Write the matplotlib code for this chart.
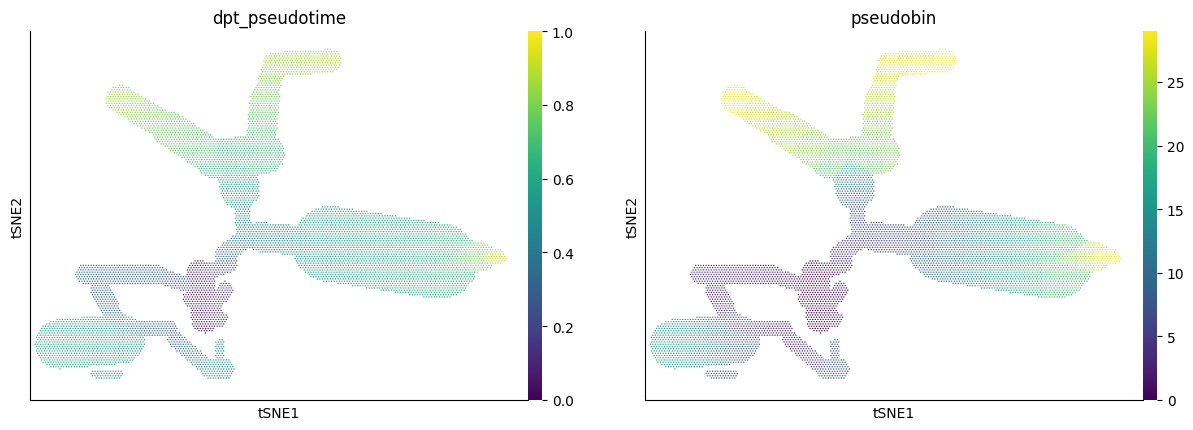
import numpy as np
import matplotlib
matplotlib.use("Agg")
import matplotlib.pyplot as plt

# Branch skeleton of the embedding: (x0, y0, x1, y1, half_width, pseudotime0, pseudotime1)
branches = [
    (260,238,330,245,15,.45,.55),(330,245,440,262,38,.58,.65),(440,262,480,258,15,.67,.80),(480,258,498,258,8,.85,.90),
    (225,255,245,240,10,.35,.40),(245,240,265,238,10,.40,.45),
    (245,240,240,190,8,.45,.55),(240,190,235,160,20,.58,.65),
    (215,160,265,155,20,.65,.68),
    (215,160,170,130,18,.70,.77),(170,130,120,100,14,.77,.85),(120,100,125,93,6,.85,.85),
    (260,150,265,100,15,.68,.78),(265,100,275,65,12,.78,.84),(275,65,330,62,12,.84,.88),
    (230,265,200,275,8,.25,.12),(200,275,205,320,14,.08,.04),(205,320,225,290,8,.08,.18),(190,300,220,320,8,.10,.10),
    (85,275,155,275,10,.35,.30),(155,275,185,285,8,.30,.20),
    (100,290,120,330,10,.30,.40),(120,330,170,330,8,.40,.30),
    (60,345,120,340,25,.62,.57),(95,375,120,375,4,.55,.55),
    (175,340,210,370,8,.30,.45),(210,370,225,370,10,.55,.55),(220,345,220,375,5,.50,.50),
]
n_bins = 30

# hex grid fill of branch regions
step = 2.6
gx, gy = np.meshgrid(np.arange(30, 530, step), np.arange(30, 405, step * 0.866))
gx = gx + (np.arange(gx.shape[0])[:, None] % 2) * step / 2
gx, gy = gx.ravel(), gy.ravel()
best_d = np.full(gx.shape, np.inf)
val = np.full(gx.shape, np.nan)
for x0, y0, x1, y1, hw, v0, v1 in branches:
    dx, dy = x1 - x0, y1 - y0
    L2 = dx * dx + dy * dy
    t = np.clip(((gx - x0) * dx + (gy - y0) * dy) / L2, 0, 1)
    d = np.hypot(gx - (x0 + t * dx), gy - (y0 + t * dy)) / hw
    m = (d <= 1) & (d < best_d)
    best_d[m] = d[m]
    val[m] = v0 + t[m] * (v1 - v0)
keep = ~np.isnan(val)
px, py, pt = gx[keep], gy[keep], val[keep]
ranks = pt.argsort().argsort() / len(pt)
pbin = np.floor(ranks * n_bins).astype(int)

fig = plt.figure(figsize=(11.93, 4.31), dpi=100)
W, H = 1193, 431
panels = [(30, "dpt_pseudotime", pt, 0, 1, [0, .2, .4, .6, .8, 1.0]),
          (645, "pseudobin", pbin, 0, 29, [0, 5, 10, 15, 20, 25])]
for left, title, c, vmin, vmax, ticks in panels:
    ax = fig.add_axes([left / W, 1 - 401 / H, 498 / W, 369 / H])
    sc = ax.scatter(px, py, c=c, s=1.0, cmap="viridis", vmin=vmin, vmax=vmax, linewidths=0)
    ax.set_xlim(30, 528); ax.set_ylim(401, 32)
    ax.set_xticks([]); ax.set_yticks([])
    for s in ["top", "right"]:
        ax.spines[s].set_visible(False)
    ax.set_xlabel("tSNE1"); ax.set_ylabel("tSNE2")
    ax.set_title(title)
    cax = fig.add_axes([(left + 498) / W, 1 - 401 / H, 14 / W, 369 / H])
    cb = fig.colorbar(sc, cax=cax, ticks=ticks)
    cb.outline.set_visible(False)
fig.savefig("out.png", dpi=100)
